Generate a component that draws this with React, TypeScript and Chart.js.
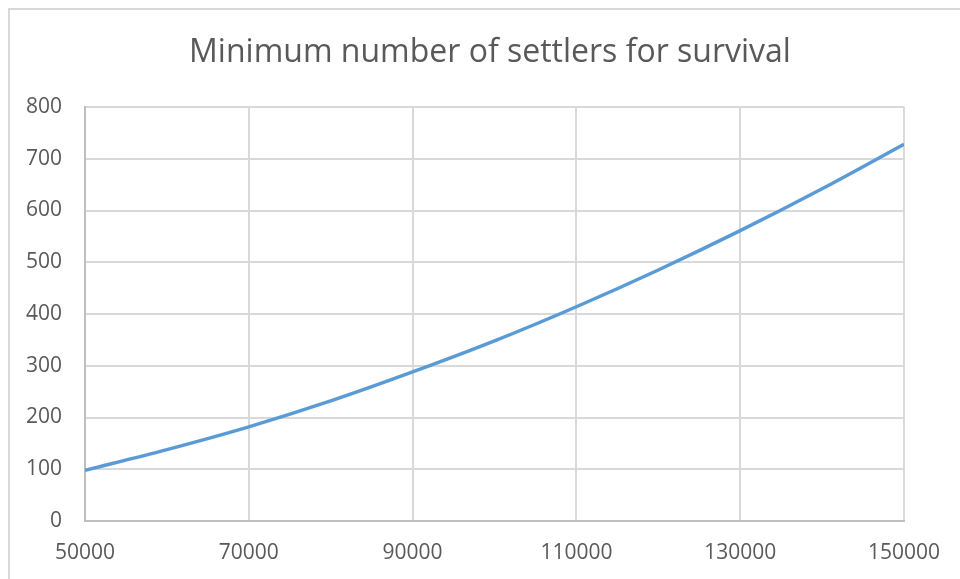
import React, { useEffect, useRef } from "react";
import { Chart, registerables } from "chart.js";

Chart.register(...registerables);

const titleText = "Minimum number of settlers for survival";
const xValues = [50000, 60000, 70000, 80000, 90000, 100000, 110000, 120000, 130000, 140000, 150000];
const settlers = [98, 138, 182, 232, 288, 348, 414, 485, 561, 642, 728];
const xRange = [50000, 150000];
const xStep = 20000;
const yRange = [0, 800];
const yStep = 100;

const titlePlugin = {
  id: "excelTitle",
  afterDraw(chart: any) {
    const ctx = chart.ctx;
    ctx.save();
    ctx.font = "32px 'Open Sans'";
    ctx.fillStyle = "#595959";
    ctx.textAlign = "center";
    ctx.textBaseline = "alphabetic";
    ctx.fillText(titleText, 490, 62);
    ctx.restore();
  },
};

export default function App() {
  const ref = useRef<HTMLCanvasElement | null>(null);

  useEffect(() => {
    if (!ref.current) return;
    const chart = new Chart(ref.current, {
      type: "line",
      data: {
        datasets: [
          {
            label: "Settlers",
            data: xValues.map((x, i) => ({ x, y: settlers[i] })),
            borderColor: "#5b9bd5",
            backgroundColor: "#5b9bd5",
            borderWidth: 3.5,
            pointRadius: 0,
            tension: 0.4,
            cubicInterpolationMode: "monotone",
            fill: false,
          },
        ],
      },
      plugins: [titlePlugin],
      options: {
        animation: false,
        responsive: false,
        maintainAspectRatio: false,
        layout: { padding: { left: 0, right: 56, top: 107, bottom: 0 } },
        plugins: {
          legend: { display: false },
          tooltip: { enabled: false },
          title: { display: false },
        },
        scales: {
          x: {
            type: "linear",
            min: xRange[0],
            max: xRange[1],
            afterFit: (s: any) => {
              s.height = 58;
            },
            ticks: {
              stepSize: xStep,
              color: "#595959",
              font: { family: "'Open Sans'", size: 21 },
              padding: 19,
              maxRotation: 0,
              callback: (v: any) => String(v),
            },
            grid: { color: "#d9d9d9", lineWidth: 2, drawTicks: false },
            border: { color: "#bfbfbf", width: 2 },
          },
          y: {
            min: yRange[0],
            max: yRange[1],
            afterFit: (s: any) => {
              s.width = 85;
            },
            ticks: {
              stepSize: yStep,
              color: "#595959",
              font: { family: "'Open Sans'", size: 21 },
              padding: 23,
              callback: (v: any) => String(v),
            },
            grid: { color: "#d9d9d9", lineWidth: 2, drawTicks: false },
            border: { color: "#bfbfbf", width: 2 },
          },
        },
      },
    });
    return () => chart.destroy();
  }, []);

  return (
    <div style={{ position: "fixed", left: 0, top: 0, width: 960, height: 579, overflow: "hidden", background: "#fff" }}>
      <div
        style={{
          position: "absolute",
          left: 8,
          top: 8,
          width: 1000,
          height: 1000,
          border: "2px solid #d9d9d9",
        }}
      />
      <canvas ref={ref} width={960} height={579} style={{ position: "absolute", left: 0, top: 0, width: 960, height: 579 }} />
    </div>
  );
}
